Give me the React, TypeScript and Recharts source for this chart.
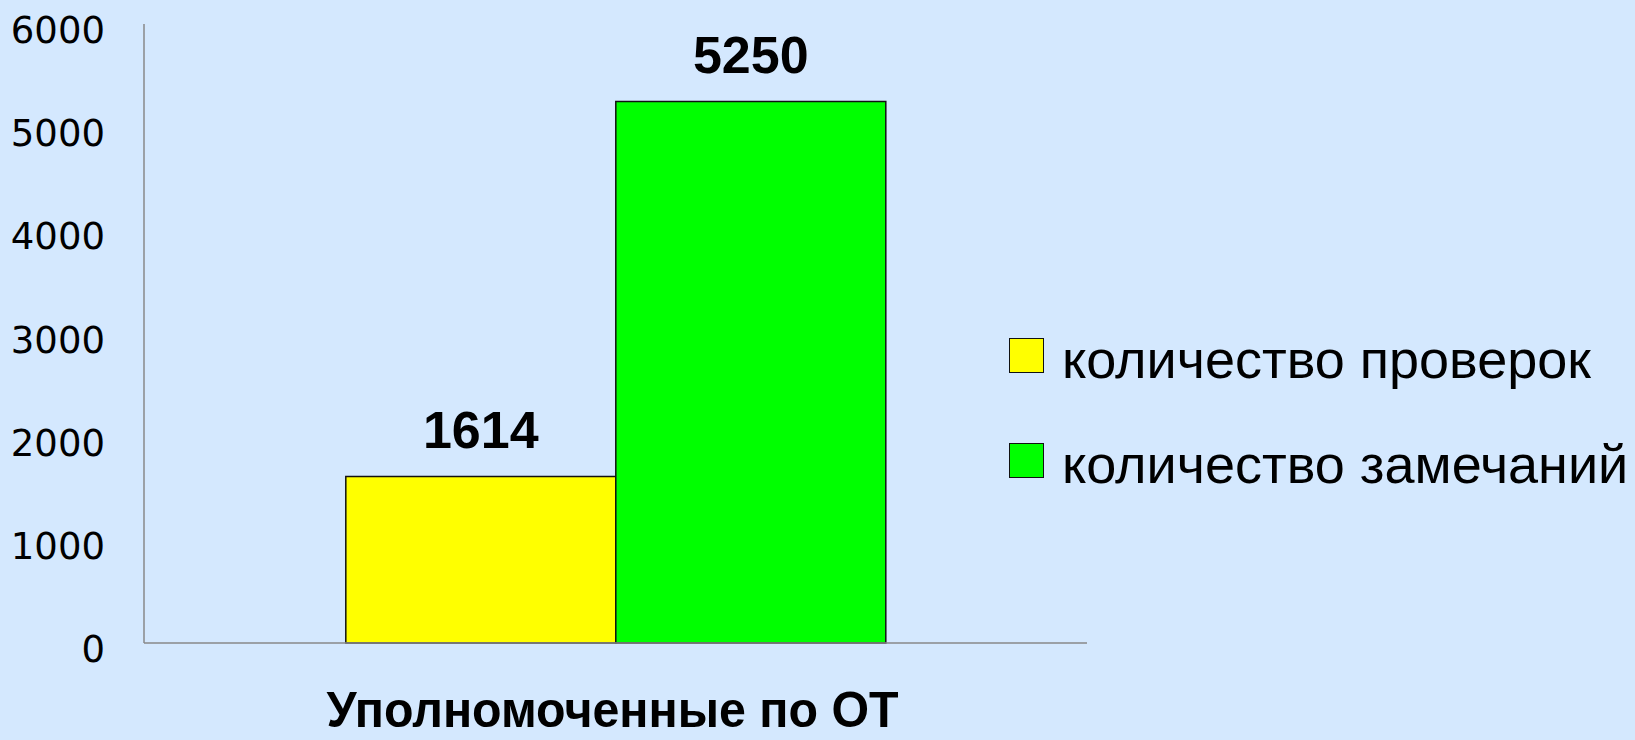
import { Bar, BarChart, XAxis, YAxis, Legend, LabelList } from 'recharts'

const categories = ['Уполномоченные по ОТ']
const inspections = [1614]
const remarks = [5250]
const seriesNames = ['количество проверок', 'количество замечаний']
const seriesColors = ['#ffff00', '#00ff00']
const yTicks = [0, 1000, 2000, 3000, 4000, 5000, 6000]

const data = categories.map((name, i) => ({
  name,
  inspections: inspections[i],
  remarks: remarks[i],
}))

const bg = '#d4e8fe'

function CategoryTick({ x, y, payload }: any) {
  return (
    <text
      x={x - 3}
      y={y + 84}
      textAnchor="middle"
      fontFamily="'Liberation Sans', Arial, sans-serif"
      fontWeight="bold"
      fontSize={50}
      fill="#000"
      textLength={572}
      lengthAdjust="spacingAndGlyphs"
    >
      {payload.value}
    </text>
  )
}

function LegendBox({ payload }: any) {
  // keep series order (recharts reverses it in vertical layout)
  const items = [...(payload || [])].sort(
    (a: any, b: any) => seriesNames.indexOf(a.value) - seriesNames.indexOf(b.value)
  )
  return (
    <div style={{ fontFamily: "'Liberation Sans', Arial, sans-serif" }}>
      {items.map((entry: any) => (
        <div key={entry.value} style={{ display: 'flex', alignItems: 'flex-start', height: 105 }}>
          <div
            style={{
              width: 33,
              height: 33,
              marginTop: 8,
              background: entry.color,
              border: '1.5px solid #111',
              flexShrink: 0,
            }}
          />
          <div style={{ marginLeft: 18, marginTop: 3, fontSize: 54, lineHeight: '52px', color: '#000', whiteSpace: 'nowrap' }}>
            {entry.value}
          </div>
        </div>
      ))}
    </div>
  )
}

export default function App() {
  return (
    <div style={{ position: 'absolute', left: 0, top: 0, width: 1635, height: 740, background: bg, overflow: 'hidden' }}>
      <BarChart
        width={1635}
        height={740}
        data={data}
        margin={{ top: 24, right: 548, bottom: 0, left: 0 }}
        barCategoryGap="21.4%"
        barGap={0}
      >
        <XAxis
          dataKey="name"
          axisLine={{ stroke: '#888', strokeWidth: 1.5 }}
          tickLine={false}
          tickSize={0}
          tickMargin={0}
          tick={<CategoryTick />}
          height={97}
        />
        <YAxis
          width={144}
          domain={[0, 6000]}
          ticks={yTicks}
          interval={0}
          axisLine={{ stroke: '#888', strokeWidth: 1.5 }}
          tickLine={false}
          tickSize={0}
          tickMargin={39}
          tick={{ fill: '#000', fontSize: 37, fontFamily: "'DejaVu Sans', Verdana, sans-serif", dy: 6 }}
        />
        <Legend
          layout="vertical"
          align="center"
          verticalAlign="middle"
          content={<LegendBox />}
          wrapperStyle={{ left: 1009, top: 330, width: 626, height: 210 }}
        />
        <Bar
          dataKey="inspections"
          name={seriesNames[0]}
          fill={seriesColors[0]}
          stroke="#111"
          strokeWidth={1.5}
          isAnimationActive={false}
        >
          <LabelList
            dataKey="inspections"
            position="top"
            offset={28}
            fill="#000"
            fontSize={52}
            fontWeight="bold"
            fontFamily="'Liberation Sans', Arial, sans-serif"
          />
        </Bar>
        <Bar
          dataKey="remarks"
          name={seriesNames[1]}
          fill={seriesColors[1]}
          stroke="#111"
          strokeWidth={1.5}
          isAnimationActive={false}
        >
          <LabelList
            dataKey="remarks"
            position="top"
            offset={28}
            fill="#000"
            fontSize={52}
            fontWeight="bold"
            fontFamily="'Liberation Sans', Arial, sans-serif"
          />
        </Bar>
      </BarChart>
    </div>
  )
}
